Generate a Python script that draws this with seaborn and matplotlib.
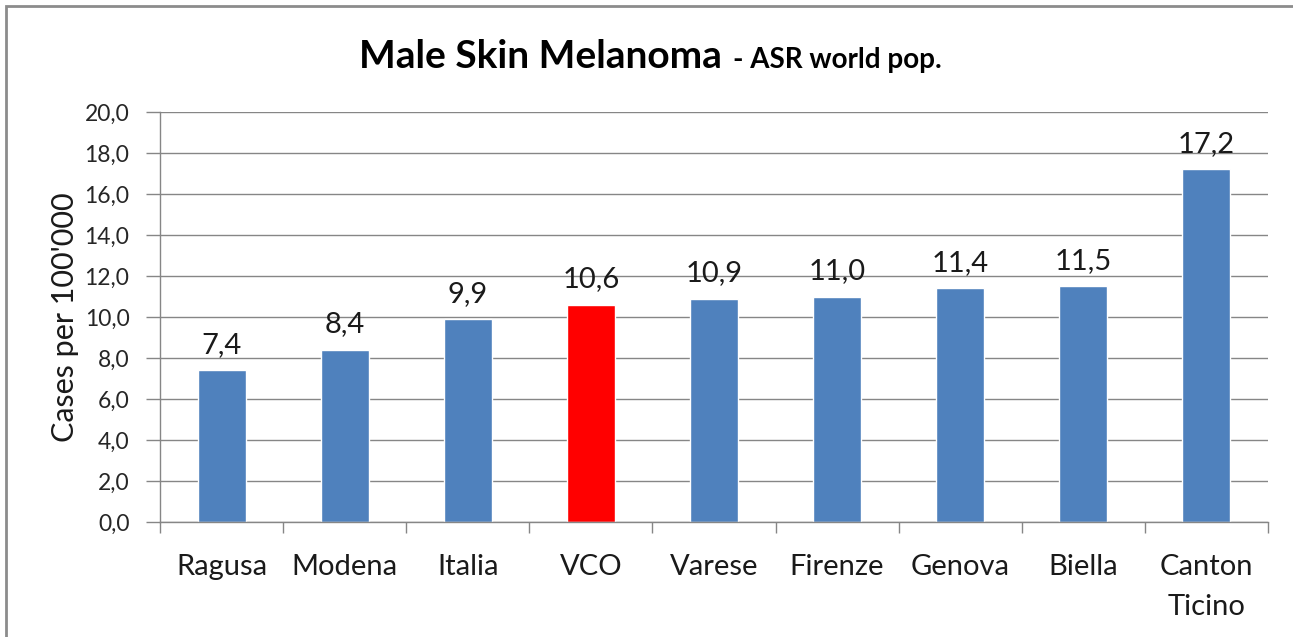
"""
Male skin melanoma ASR (world pop.) by area, Excel-style bar chart.
"""

import matplotlib
matplotlib.use('Agg')
import matplotlib.pyplot as plt
import seaborn as sns
from matplotlib.patches import Rectangle
from matplotlib.ticker import FixedLocator

areas  = ['Ragusa', 'Modena', 'Italia', 'VCO', 'Varese', 'Firenze', 'Genova', 'Biella', 'Canton\nTicino']
rates  = [7.4, 8.4, 9.9, 10.6, 10.9, 11.0, 11.4, 11.5, 17.2]
colors = ['#4F81BD', '#4F81BD', '#4F81BD', '#FF0000', '#4F81BD', '#4F81BD', '#4F81BD', '#4F81BD', '#4F81BD']
y_ticks = [0, 2, 4, 6, 8, 10, 12, 14, 16, 18, 20]

GRID = '#868686'

sns.set_theme(style='white')
plt.rcParams['font.family'] = ['Lato', 'DejaVu Sans']

fig = plt.figure(figsize=(12.93, 6.37), dpi=100)
ax = fig.add_axes([160 / 1293, 1 - 522 / 637, (1268 - 160) / 1293, (522 - 112) / 637])

sns.barplot(x=areas, y=rates, hue=areas, palette=colors, legend=False,
            width=0.39, saturation=1, ax=ax)

ax.set_ylim(0, 20)
ax.set_xlim(-0.5, len(areas) - 0.5)
ax.set_yticks(y_ticks)
ax.set_yticklabels([f'{v:.1f}'.replace('.', ',') for v in y_ticks], fontsize=16.5, color='#262626')
ax.yaxis.grid(True, color=GRID, linewidth=1)
ax.set_axisbelow(True)

# category labels centred, ticks at category boundaries
ax.set_xticks(range(len(areas)))
ax.set_xticklabels(areas, fontsize=21, linespacing=1.65, color='#1a1a1a')
ax.xaxis.set_minor_locator(FixedLocator([i - 0.5 for i in range(len(areas) + 1)]))
ax.tick_params(axis='x', which='major', length=0, pad=23)
ax.tick_params(axis='x', which='minor', length=8, color=GRID, width=1, bottom=True)
ax.tick_params(axis='y', length=10, color=GRID, width=1, left=True, pad=12)

for side in ['top', 'right']:
    ax.spines[side].set_visible(False)
for side in ['left', 'bottom']:
    ax.spines[side].set_color(GRID)
    ax.spines[side].set_linewidth(1)

ax.set_ylabel("Cases per 100'000", fontsize=22, labelpad=4, color='#1a1a1a')
ax.set_xlabel('')

for cont in ax.containers:
    ax.bar_label(cont, labels=[f'{b.get_height():.1f}'.replace('.', ',') for b in cont],
                 padding=9, fontsize=21, color='#1a1a1a')

# title: big bold part + smaller bold suffix
fig.text(722 / 1293, 1 - 57 / 637, 'Male Skin Melanoma', fontsize=28, fontweight='bold',
         ha='right', va='center', color='black')
fig.text(733 / 1293, 1 - 60 / 637, '- ASR world pop.', fontsize=20, fontweight='bold',
         ha='left', va='center', color='black')

# chart frame (cropped on the right and bottom)
fig.patches.append(Rectangle((6 / 1293, -0.05), 1.1, 1 - 6 / 637 + 0.05,
                             transform=fig.transFigure, fill=False,
                             edgecolor='#8C8C8C', linewidth=2))

fig.savefig('out.png', dpi=100)
